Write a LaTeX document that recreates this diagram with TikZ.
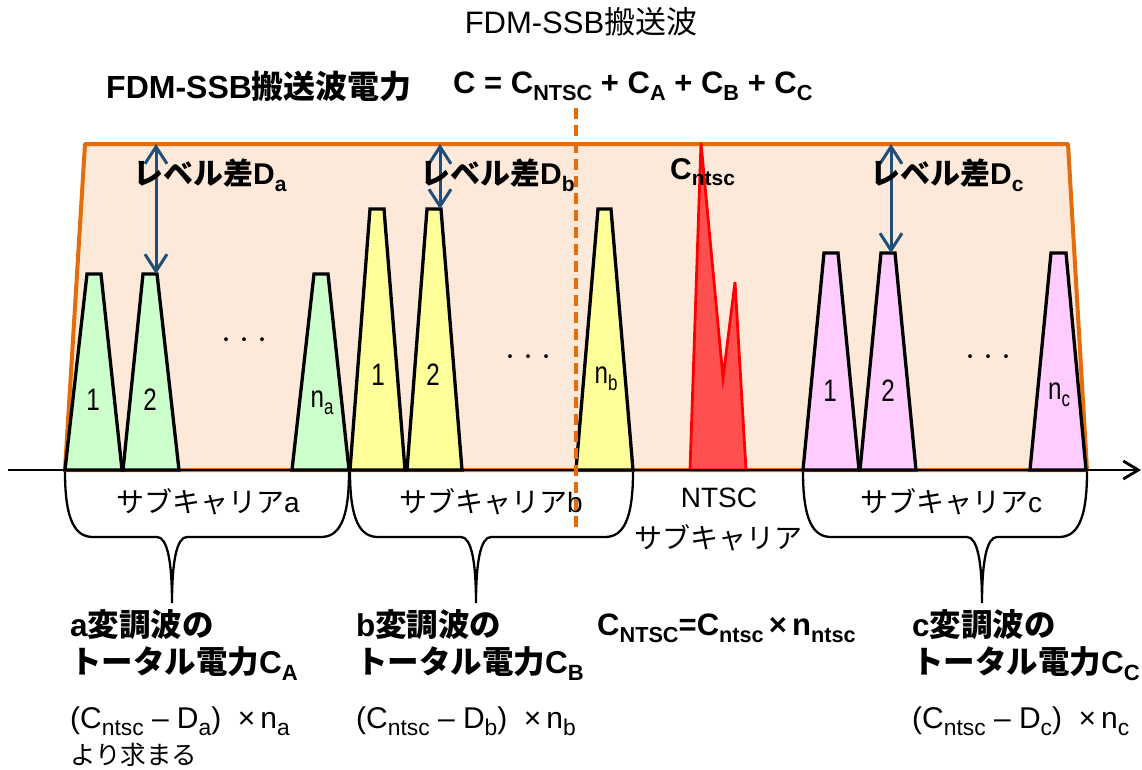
\documentclass[tikz,border=0pt]{standalone}
\usepackage{fontspec}
\setmainfont{Liberation Sans}
\newfontfamily\jp{Noto Sans CJK JP}
\newfontfamily\narrowf{Liberation Sans}[FakeStretch=0.78]
\usetikzlibrary{arrows.meta}
\definecolor{orng}{HTML}{E46C0A}
\definecolor{peach}{HTML}{FDE9D9}
\definecolor{gfill}{HTML}{CCFFCC}
\definecolor{yfill}{HTML}{FFFF99}
\definecolor{pfill}{HTML}{FFCCFF}
\definecolor{rfill}{HTML}{FF5050}
\definecolor{lvlblue}{HTML}{1F4E79}
\newcommand\lo[1]{\raisebox{-0.22em}{\scalebox{0.7}{#1}}}
\newcommand\lob[1]{\raisebox{-0.22em}{\scalebox{0.76}{#1}}}
\newcommand\mybrace[3]{\draw[bracestyle] (#1,472) .. controls (#1,520) and ({#1+10},537) .. ({#1+28},537) -- ({#2-15},537) .. controls ({#2-5},537) and (#2,560) .. (#2,603) .. controls (#2,560) and ({#2+5},537) .. ({#2+15},537) -- ({#3-28},537) .. controls ({#3-10},537) and (#3,520) .. (#3,472);}
\newcommand\mypeak[6]{\draw[peakline,fill=#1] (#2,470) -- (#3,#6) -- (#4,#6) -- (#5,470) -- cycle;}
\begin{document}
\begin{tikzpicture}[x=1pt,y=-1pt,
  peakline/.style={draw=black,line width=3.3pt,line join=miter},
  bracestyle/.style={draw=black,line width=2.3pt},
  lvl/.style={draw=lvlblue,line width=3pt,{Straight Barb[length=17pt,width=22pt,line width=3pt]}-{Straight Barb[length=17pt,width=22pt,line width=3pt]}},
  axisline/.style={draw=black,line width=2.8pt,-{Straight Barb[length=15pt,width=18pt,line width=2.8pt]}},
  envelope/.style={draw=orng,fill=peach,line width=4pt,line join=round},
  divider/.style={draw=orng,line width=4pt,dash pattern=on 11pt off 6pt},
  bigb/.style={font=\fontsize{31.5}{36}\selectfont\bfseries},
  reg/.style={font=\fontsize{28}{32}\selectfont},
  peaklbl/.style={font=\fontsize{31}{34}\selectfont\narrowf},
  dots/.style={font=\fontsize{18}{20}\selectfont\jp}
]
\useasboundingbox (0,0) rectangle (1142,769);
\fill[white] (0,0) rectangle (1142,769);
% envelope
\draw[envelope] (65,470) -- (85,144) -- (1068,144) -- (1087,470) -- cycle;
% subcarrier a
\mypeak{gfill}{65}{87}{101}{122}{274}
\mypeak{gfill}{123}{143}{157}{179}{274}
\mypeak{gfill}{292}{314}{328}{349}{274}
% subcarrier b
\mypeak{yfill}{350}{370}{384}{405}{209}
\mypeak{yfill}{407}{427}{441}{462}{209}
\mypeak{yfill}{576}{598}{611}{633}{209}
% NTSC
\draw[draw=red,fill=rfill,line width=2.8pt,line join=miter] (690,470) -- (701,143) -- (723,378) -- (735,282) -- (746,470) -- cycle;
% subcarrier c
\mypeak{pfill}{803}{824}{838}{859}{253}
\mypeak{pfill}{860}{881}{895}{916}{253}
\mypeak{pfill}{1030}{1051}{1066}{1086}{253}
% axis
\coordinate (ax0) at (8,470);
\coordinate (ax1) at (1141,470);
\draw[axisline] (ax0) -- (ax1);
% braces
\mybrace{65}{172}{349}
\mybrace{350}{476}{633}
\mybrace{803}{982}{1087}
% divider
\coordinate (dv0) at (576,108);
\coordinate (dv1) at (576,532);
\draw[divider] (dv0) -- (dv1);
% level arrows
\coordinate (ta) at (156,144); \coordinate (pa) at (156,274);
\coordinate (tb) at (440,144); \coordinate (pb) at (440,209);
\coordinate (tc) at (891,144); \coordinate (pc) at (891,253);
\draw[lvl] (ta) -- (pa);
\draw[lvl] (tb) -- (pb);
\draw[lvl] (tc) -- (pc);
% peak labels
\node[peaklbl] (a1) at (93,400) {1};
\node[peaklbl] (a2) at (150,400) {2};
\node[peaklbl] (an) at (322,403) {n\lo{a}};
\node[peaklbl] (b1) at (378,375) {1};
\node[peaklbl] (b2) at (433,375) {2};
\node[peaklbl] (bn) at (606,379) {n\lo{b}};
\node[peaklbl] (c1) at (830,391) {1};
\node[peaklbl] (c2) at (888,391) {2};
\node[peaklbl] (cn) at (1059,395) {n\lo{c}};
\node[dots] (da) at (244,342) {・・・};
\node[dots] (db) at (528,359) {・・・};
\node[dots] (dc) at (988,359) {・・・};
% level labels
\node[font=\fontsize{30}{34}\selectfont\bfseries,anchor=west,inner sep=0pt] (la) at (133,175) {{\jp\bfseries レベル差}D\lo{a}};
\node[font=\fontsize{30}{34}\selectfont\bfseries,anchor=west,inner sep=0pt] (lb) at (420,175) {{\jp\bfseries レベル差}D\lo{b}};
\node[font=\fontsize{30}{34}\selectfont\bfseries,anchor=west,inner sep=0pt] (lc) at (870,175) {{\jp\bfseries レベル差}D\lo{c}};
\node[font=\fontsize{30}{34}\selectfont\bfseries,anchor=west,inner sep=0pt] (cn1) at (670,172) {C\lo{ntsc}};
% titles
\node[font=\fontsize{31}{34}\selectfont,inner sep=0pt] (title) at (581,22) {FDM-SSB{\jp 搬送波}};
\node[font=\fontsize{32}{36}\selectfont\bfseries,anchor=west,inner sep=0pt] (pw) at (106,86) {FDM-SSB{\jp\bfseries 搬送波電力}};
\node[font=\fontsize{31}{36}\selectfont\bfseries,anchor=west,inner sep=0pt] (eq) at (453,86) {C = C\lo{NTSC} + C\lo{A} + C\lo{B} + C\lo{C}};
% brace labels
\node[reg,inner sep=0pt] (sa) at (208,502) {{\jp サブキャリア}a};
\node[reg,inner sep=0pt] (sb) at (491,502) {{\jp サブキャリア}b};
\node[reg,inner sep=0pt] (sn1) at (719,498) {NTSC};
\node[reg,inner sep=0pt] (sn2) at (718,538) {\jp サブキャリア};
\node[reg,inner sep=0pt] (sc) at (951,502) {{\jp サブキャリア}c};
% bottom texts
\node[bigb,anchor=west,inner sep=0pt] (ta1) at (70,625) {a{\jp\bfseries 変調波の}};
\node[bigb,anchor=west,inner sep=0pt] (ta2) at (70,664) {{\jp\bfseries トータル電力}C\lo{A}};
\node[font=\fontsize{30}{34}\selectfont,anchor=west,inner sep=0pt] (ta3) at (70,721) {(C\lob{ntsc} – D\lob{a})\hspace{0.55em}×\,n\lob{a}};
\node[font=\fontsize{25.5}{30}\selectfont,anchor=west,inner sep=0pt] (ta4) at (70,755) {\jp より求まる};
\node[bigb,anchor=west,inner sep=0pt] (tb1) at (356,625) {b{\jp\bfseries 変調波の}};
\node[bigb,anchor=west,inner sep=0pt] (tb2) at (356,664) {{\jp\bfseries トータル電力}C\lo{B}};
\node[font=\fontsize{30}{34}\selectfont,anchor=west,inner sep=0pt] (tb3) at (356,721) {(C\lob{ntsc} – D\lob{b})\hspace{0.55em}×\,n\lob{b}};
\node[font=\fontsize{31}{34}\selectfont\bfseries,anchor=west,inner sep=0pt] (tn) at (597,628) {C\lo{NTSC}=C\lo{ntsc}\,×\,n\lo{ntsc}};
\node[bigb,anchor=west,inner sep=0pt] (tc1) at (912,625) {c{\jp\bfseries 変調波の}};
\node[bigb,anchor=west,inner sep=0pt] (tc2) at (912,664) {{\jp\bfseries トータル電力}C\lo{C}};
\node[font=\fontsize{30}{34}\selectfont,anchor=west,inner sep=0pt] (tc3) at (912,721) {(C\lob{ntsc} – D\lob{c})\hspace{0.55em}×\,n\lob{c}};
\end{tikzpicture}
\end{document}
